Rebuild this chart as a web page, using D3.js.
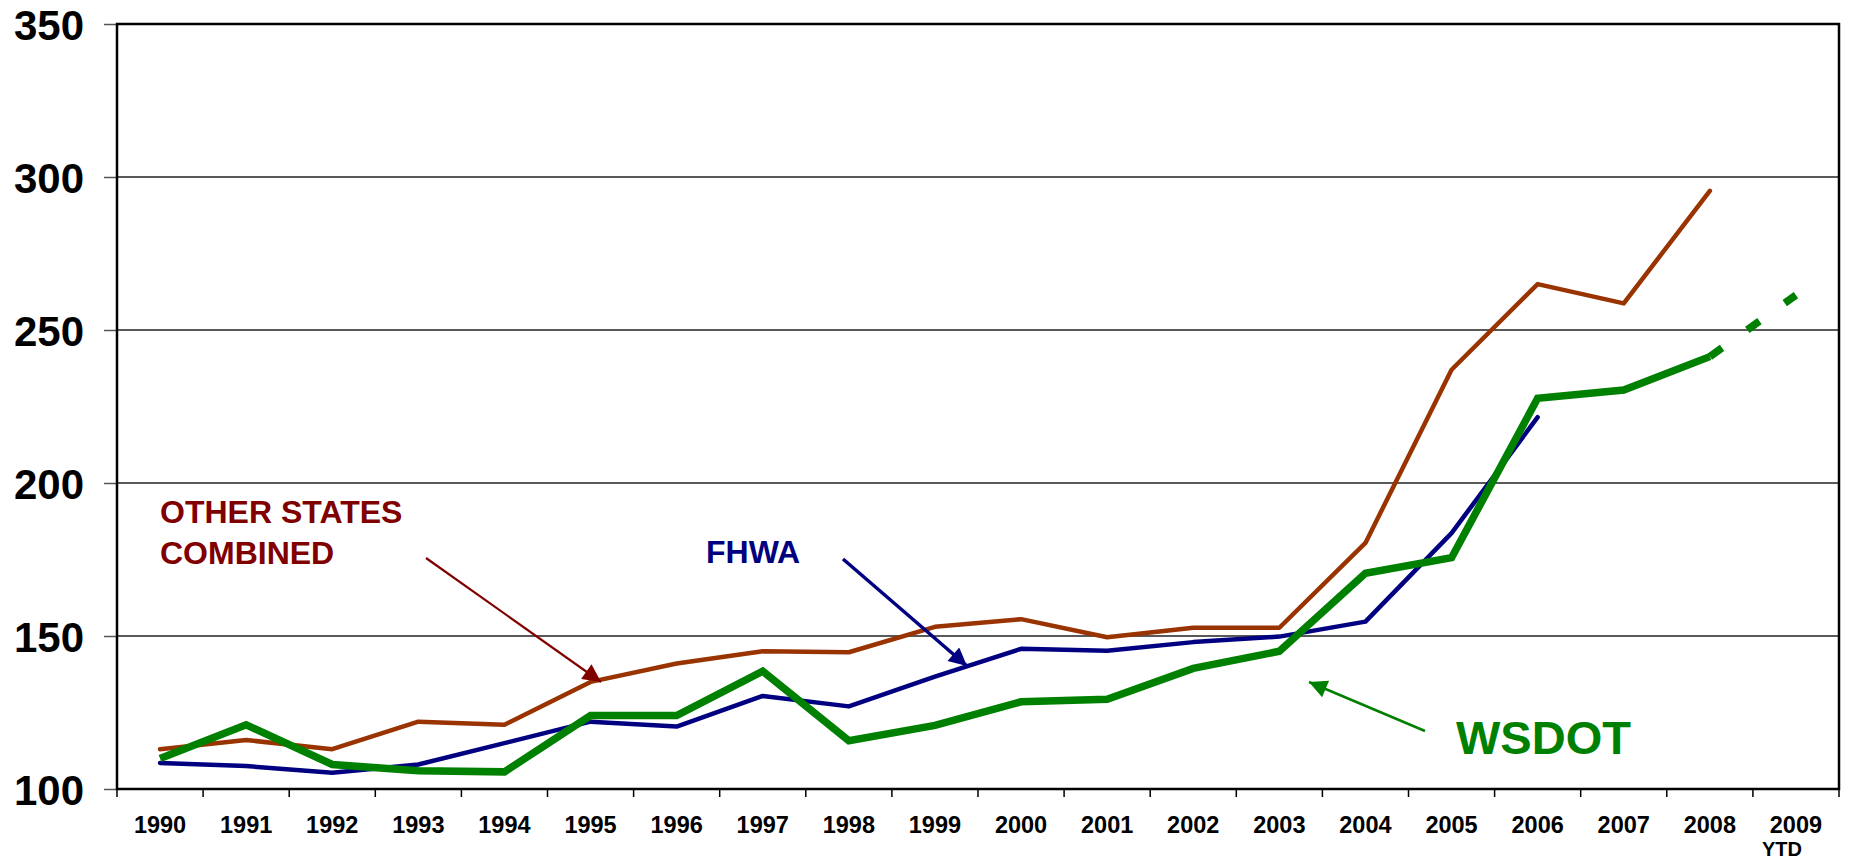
<!DOCTYPE html>
<html>
<head>
<meta charset="utf-8">
<script src="https://cdn.jsdelivr.net/npm/d3@7"></script>
<style>
  html, body { margin: 0; padding: 0; background: #fff; }
  svg { display: block; font-family: Arial, "Liberation Sans", sans-serif; }
</style>
</head>
<body>
<svg id="chart" width="1849" height="859"></svg>
<script>
// ---- data ----
const years = ["1990","1991","1992","1993","1994","1995","1996","1997","1998","1999",
               "2000","2001","2002","2003","2004","2005","2006","2007","2008","2009"];
const yearSubLabels = {"2009": "YTD"};
const yTicks = [100, 150, 200, 250, 300, 350];

const otherStates = [113, 116, 113, 122, 121, 135, 141, 145, 144.7, 153,
                     155.5, 149.6, 152.7, 152.7, 180.4, 237, 265, 258.7, 295.5, null];
const fhwa        = [108.5, 107.5, 105.3, 108, 115, 122, 120.4, 130.4, 127, 136.7,
                     145.8, 145.2, 148, 149.8, 154.7, 183.6, 221.5, null, null, null];
const wsdot       = [110, 121, 108, 106, 105.6, 124, 124, 138.5, 115.8, 120.8,
                     128.5, 129.3, 139.4, 145, 170.5, 175.6, 227.7, 230.4, 241.3, null];
const wsdotYtd    = [null, null, null, null, null, null, null, null, null, null,
                     null, null, null, null, null, null, null, null, 241.3, 261.4];

// ---- layout ----
const svg = d3.select("#chart");
const pLeft = 117, pRight = 1839, pTop = 24, pBottom = 789;

const x = d3.scaleBand().domain(years).range([pLeft, pRight]).padding(0);
const y = d3.scaleLinear().domain([100, 350]).range([pBottom, pTop]);
const cx = d => x(d) + x.bandwidth() / 2;

// gridlines
svg.append("g").selectAll("line")
  .data(yTicks.filter(v => v > 100 && v < 350))
  .join("line")
  .attr("x1", pLeft).attr("x2", pRight)
  .attr("y1", d => y(d)).attr("y2", d => y(d))
  .attr("stroke", "#222").attr("stroke-width", 1.3);

// y axis
const yAxis = d3.axisLeft(y).tickValues(yTicks).tickSize(13).tickPadding(20)
  .tickFormat(d3.format("d"));
const gy = svg.append("g").attr("transform", `translate(${pLeft},0)`).call(yAxis);
gy.select(".domain").remove();
gy.selectAll(".tick line").attr("stroke", "#555").attr("stroke-width", 1.5);
gy.selectAll(".tick text")
  .attr("font-size", 42).attr("font-weight", "bold").attr("fill", "#000")
  .attr("font-family", "Arial, 'Liberation Sans', sans-serif")
  .attr("dy", "0.36em");

// x axis: ticks at band boundaries
const boundaries = years.map(d => x(d)).concat([pRight]);
svg.append("g").selectAll("line").data(boundaries).join("line")
  .attr("x1", d => d).attr("x2", d => d)
  .attr("y1", pBottom).attr("y2", pBottom + 8)
  .attr("stroke", "#000").attr("stroke-width", 1.5);

const xl = svg.append("g");
xl.selectAll("text.yr").data(years).join("text")
  .attr("class", "yr")
  .attr("x", d => cx(d)).attr("y", 833)
  .attr("text-anchor", "middle")
  .attr("font-size", 23.5).attr("font-weight", "bold").attr("fill", "#000")
  .text(d => d);
xl.selectAll("text.sub").data(years.filter(d => yearSubLabels[d])).join("text")
  .attr("class", "sub")
  .attr("x", d => cx(d) - 14).attr("y", 856)
  .attr("text-anchor", "middle")
  .attr("font-size", 20).attr("font-weight", "bold").attr("fill", "#000")
  .text(d => yearSubLabels[d]);

// plot frame
svg.append("rect")
  .attr("x", pLeft).attr("y", pTop)
  .attr("width", pRight - pLeft).attr("height", pBottom - pTop)
  .attr("fill", "none").attr("stroke", "#000").attr("stroke-width", 2.5);

// lines
const line = d3.line()
  .defined(d => d.v != null)
  .x(d => cx(d.year)).y(d => y(d.v));
const toPts = arr => years.map((yr, i) => ({year: yr, v: arr[i]}));

svg.append("path").datum(toPts(otherStates))
  .attr("d", line).attr("fill", "none")
  .attr("stroke", "#993300").attr("stroke-width", 4.5)
  .attr("stroke-linejoin", "round").attr("stroke-linecap", "round");
svg.append("path").datum(toPts(fhwa))
  .attr("d", line).attr("fill", "none")
  .attr("stroke", "#000080").attr("stroke-width", 4.5)
  .attr("stroke-linejoin", "round").attr("stroke-linecap", "round");
svg.append("path").datum(toPts(wsdot))
  .attr("d", line).attr("fill", "none")
  .attr("stroke", "#008000").attr("stroke-width", 7.5)
  .attr("stroke-linejoin", "miter");
svg.append("path").datum(toPts(wsdotYtd))
  .attr("d", line).attr("fill", "none")
  .attr("stroke", "#008000").attr("stroke-width", 7.5)
  .attr("stroke-dasharray", "15,31");

// ---- annotations ----
const defs = svg.append("defs");
function marker(id, color) {
  defs.append("marker").attr("id", id)
    .attr("viewBox", "0 0 10 10").attr("refX", 10).attr("refY", 5)
    .attr("markerUnits", "userSpaceOnUse")
    .attr("markerWidth", 26).attr("markerHeight", 18)
    .attr("orient", "auto")
    .append("path").attr("d", "M0,0 L10,5 L0,10 Z").attr("fill", color);
}
marker("arrRed", "#800000");
marker("arrBlue", "#000080");
marker("arrGreen", "#008000");

function arrow(x1, y1, x2, y2, color, w, m) {
  svg.append("line").attr("x1", x1).attr("y1", y1).attr("x2", x2).attr("y2", y2)
    .attr("stroke", color).attr("stroke-width", w)
    .attr("marker-end", `url(#${m})`);
}

const ann = svg.append("g").attr("font-weight", "bold");
ann.append("text").attr("x", 160).attr("y", 523).attr("font-size", 32)
  .attr("fill", "#800000").text("OTHER STATES");
ann.append("text").attr("x", 160).attr("y", 564).attr("font-size", 32)
  .attr("fill", "#800000").text("COMBINED");
arrow(426, 558, 601, 682, "#800000", 2.2, "arrRed");

ann.append("text").attr("x", 706).attr("y", 563).attr("font-size", 32)
  .attr("fill", "#000080").text("FHWA");
arrow(843, 559, 967, 666, "#000080", 3.5, "arrBlue");

ann.append("text").attr("x", 1456).attr("y", 754).attr("font-size", 47)
  .attr("fill", "#008000").text("WSDOT");
arrow(1425, 731, 1309, 682, "#008000", 2.5, "arrGreen");
</script>
</body>
</html>
